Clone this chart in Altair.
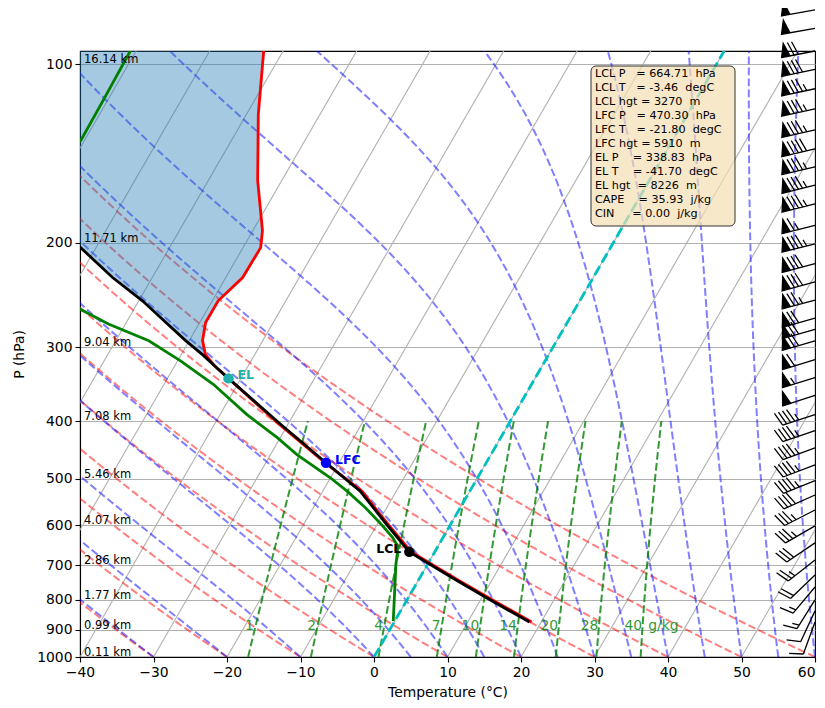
import numpy as np
import pandas as pd
import altair as alt

SKEW = 46.6            # x-shift (degC) per decade of pressure: 30 deg skew
P_TOP, P_BOT = 95.0, 1000.0
W, H = 735, 606
FONT = "DejaVu Sans"

# ---------------- sounding ----------------
prof_p = [873, 800, 740, 664.71, 600, 525, 470.3, 405, 338.83, 322.6, 309, 292.6,
          272.8, 250.7, 229, 203.9, 190.8, 157, 121.5, 94.7]
temp_c = [18.7, 11.5, 5.2, -3.2, -8.3, -14.7, -21.9, -31.2, -41.7, -44.6, -46.7, -48.2,
          -49.2, -49.2, -47.7, -47.6, -48.7, -53.3, -58.4, -62.7]
parcel_c = [18.4, 11.2, 4.95, -3.46, -8.5, -14.92, -21.8, -31.0, -41.7, -44.6, -47.1, -50.5,
            -54.6, -59.5, -65.4, -72.1, -75.8, -86.5, -99.7, -111.6]
dew_p = [870, 764.6, 698, 672, 650, 629.5, 600, 560, 525, 498, 455.5, 426.6, 389.6,
         346.7, 316.6, 292.7, 274.4, 259, 230, 200, 160, 134.6, 115, 94.8]
dew_c = [-0.2, -2.6, -4.3, -4.9, -5.5, -6.8, -9.2, -12.9, -16.7, -20.1, -26.4, -30.4, -36.4,
         -43.3, -49.6, -55.5, -62.3, -67.3, -76.0, -88.0, -86.0, -80.5, -80.6, -80.8]

# special levels
lvl_name = ["LCL", "LFC", "EL"]
lvl_p = [664.71, 470.30, 338.83]
lvl_t = [-3.46, -21.80, -41.70]
lvl_color = ["#000000", "#0000ff", "#20b2aa"]

# height labels on the left
km_p = [100, 200, 300, 400, 500, 600, 700, 800, 900, 1000]
km_text = ["16.14 km", "11.71 km", "9.04 km", "7.08 km", "5.46 km", "4.07 km",
           "2.86 km", "1.77 km", "0.99 km", "0.11 km"]

# mixing ratio lines (g/kg)
mix_w = [1, 2, 4, 7, 10, 14, 20, 28, 40]

# wind
wind_p = [81, 87, 95, 102, 110, 119, 129, 139, 149, 160, 172, 187, 201, 217, 233, 250,
          268, 280, 293, 315, 338, 362, 390, 415, 444, 474, 504, 533, 565, 601, 642,
          686, 727, 762, 801, 836, 873]
wind_kt = [50, 50, 70, 80, 85, 85, 85, 90, 85, 85, 85, 65, 85, 80, 80, 75,
           70, 70, 70, 60, 55, 50, 45, 45, 45, 45, 45, 40, 35, 35, 30,
           25, 20, 15, 15, 10, 10]
wind_dir = [260, 260, 259, 258, 258, 258, 257, 257, 257, 256, 256, 256, 256, 255, 255, 255,
            254, 254, 254, 253, 253, 252, 252, 251, 250, 249, 248, 246, 243, 240, 236,
            232, 226, 220, 212, 205, 200]

info_lines = ["LCL P   = 664.71  hPa", "LCL T   = -3.46  degC", "LCL hgt = 3270  m",
              "LFC P   = 470.30  hPa", "LFC T   = -21.80  degC", "LFC hgt = 5910  m",
              "EL P    = 338.83  hPa", "EL T    = -41.70  degC", "EL hgt  = 8226  m",
              "CAPE    = 35.93  j/kg", "CIN     = 0.00  j/kg"]

# ---------------- helpers ----------------
def skx(t, p):
    return np.asarray(t, float) + SKEW * np.log10(1000.0 / np.asarray(p, float))

def es_hpa(tc):
    return 6.112 * np.exp(17.67 * tc / (tc + 243.5))

def dew_from_e(e):
    v = np.log(e / 6.112)
    return 243.5 * v / (17.67 - v)

def moist_line(t0c, pgrid):
    Rd, Cp, Lv, eps = 287.04749, 1004.6662, 2.50084e6, 0.621957
    def f(p, t):
        e = es_hpa(t - 273.15)
        rs = eps * e / (p - e)
        return (Rd * t + Lv * rs) / (Cp + Lv * Lv * rs * eps / (Rd * t * t)) / p
    t = t0c + 273.15
    out = [t]
    for i in range(1, len(pgrid)):
        p0, h = pgrid[i - 1], pgrid[i] - pgrid[i - 1]
        k1 = f(p0, t); k2 = f(p0 + h / 2, t + h * k1 / 2)
        k3 = f(p0 + h / 2, t + h * k2 / 2); k4 = f(p0 + h, t + h * k3)
        t = t + h * (k1 + 2 * k2 + 2 * k3 + k4) / 6
        out.append(t)
    return np.array(out) - 273.15

def lines_df(curves):
    rows = []
    for cid, (ts, ps) in curves.items():
        xs = skx(ts, ps)
        for i, (x, p) in enumerate(zip(xs, ps)):
            rows.append({"id": str(cid), "i": i, "x": float(x), "p": float(p)})
    return pd.DataFrame(rows)

# ---------------- background lines ----------------
iso_df = lines_df({t0: ([t0, t0], [1000.0, 90.0]) for t0 in range(-110, 61, 10)})

pg = np.geomspace(1000.0, 90.0, 40)
dry_df = lines_df({t0: ((t0 + 273.15) * (pg / 1000.0) ** 0.2857 - 273.15, pg)
                   for t0 in range(-40, 61, 10)})

pfine = np.geomspace(1000.0, 90.0, 321)
moist_t0 = [-40, -30, -20, -10] + list(range(0, 61, 5))
moist_df = lines_df({t0: (moist_line(t0, pfine)[::8], pfine[::8]) for t0 in moist_t0})

pm = np.linspace(1000.0, 400.0, 13)
mix_df = lines_df({w: (dew_from_e(pm * (w / 1000.0) / (0.621957 + w / 1000.0)), pm) for w in mix_w})
P_LAB = 910.0
mix_lab = pd.DataFrame({
    "w": mix_w,
    "txt": [str(w) for w in mix_w],
    "x": skx(dew_from_e(P_LAB * (np.array(mix_w) / 1000.0) / (0.621957 + np.array(mix_w) / 1000.0)), P_LAB),
    "p": P_LAB,
})

zero_df = lines_df({0: ([0.0, 0.0], [1000.0, 90.0])})

# ---------------- profiles ----------------
temp_df = lines_df({"T": (temp_c, prof_p)})
parcel_df = lines_df({"P": (parcel_c, prof_p)})
dew_df = lines_df({"Td": (dew_c, dew_p)})

shade_idx = [i for i, p in enumerate(prof_p) if p <= 338.83]
shade_df = pd.DataFrame({
    "p": [prof_p[i] for i in shade_idx],
    "x": [float(skx(parcel_c[i], prof_p[i])) for i in shade_idx],
    "xt": [float(skx(temp_c[i], prof_p[i])) for i in shade_idx],
})

lvl_df = pd.DataFrame({"name": lvl_name, "p": lvl_p, "x": skx(lvl_t, lvl_p), "c": lvl_color})
km_df = pd.DataFrame({"p": km_p, "txt": km_text})

# ---------------- wind barbs (glyph paths built from speed / direction) ----------------
def barb_path(spd, d):
    L, sp, fh, fw = 34.0, 4.25, 13.6, 8.5
    rd = np.radians(d)
    s = (np.sin(rd), -np.cos(rd))
    b = (np.cos(rd), np.sin(rd))
    def P(a, h):
        return f"{a * s[0] + h * b[0]:.2f},{a * s[1] + h * b[1]:.2f}"
    spd5 = int(5 * round(spd / 5.0))
    nf, rem = divmod(spd5, 50)
    nb, rem = divmod(rem, 10)
    half = rem >= 5
    parts = [f"M0,0L{P(L, 0)}"]
    off = L
    for _ in range(nf):
        if off != L:
            off += sp / 2
        parts.append(f"M{P(off, 0)}L{P(off - fw / 2, fh)}L{P(off - fw, 0)}Z")
        off -= fw + sp
    for _ in range(nb):
        parts.append(f"M{P(off, 0)}L{P(off + fw / 2, fh)}")
        off -= sp
    if half:
        if off == L:
            off -= 1.5 * sp
        parts.append(f"M{P(off, 0)}L{P(off + fw / 4, fh / 2)}")
    return "".join(parts)

barb_df = pd.DataFrame({"p": wind_p, "path": [barb_path(s, d) for s, d in zip(wind_kt, wind_dir)]})

# ---------------- chart ----------------
XS = alt.Scale(domain=[-40, 60], nice=False, zero=False)
YS = alt.Scale(type="log", domain=[P_TOP, P_BOT], reverse=True, nice=False)

X_AXIS = alt.Axis(values=list(range(-40, 61, 10)), grid=False, title="Temperature (°C)",
                  tickSize=5, labelPadding=3, titlePadding=7, format="d",
                  labelFlush=False, labelOverlap=False,
                  labelAlign=alt.ExprRef(expr="datum.value >= 60 ? 'right' : 'center'"))
Y_AXIS = alt.Axis(values=km_p, format="d", grid=True, gridColor="#b0b0b0", gridWidth=1.1,
                  title="P (hPa)", tickSize=5, labelPadding=3, titlePadding=10,
                  labelFlush=False, labelOverlap=False)

def X(field="x"):
    return alt.X(f"{field}:Q", scale=XS, axis=X_AXIS, title="Temperature (°C)")

def Y():
    return alt.Y("p:Q", scale=YS, axis=Y_AXIS, title="P (hPa)")

def line_layer(df, color, width, dash=None, opacity=1.0):
    kw = dict(color=color, strokeWidth=width, opacity=opacity, clip=True)
    if dash:
        kw["strokeDash"] = dash
    return alt.Chart(df).mark_line(**kw).encode(x=X(), y=Y(), detail="id:N", order="i:Q")

dash15 = [7.7, 3.3]
layers = [
    line_layer(iso_df, "#b0b0b0", 1.1),
    line_layer(dry_df, "#ff0000", 2.0, dash15, 0.5),
    line_layer(moist_df, "#0000ff", 2.0, dash15, 0.5),
    line_layer(mix_df, "#008000", 2.0, dash15, 0.8),
    alt.Chart(mix_lab).mark_text(align="right", baseline="bottom", font=FONT, fontSize=13.9,
                                 color="#008000", opacity=0.8).encode(x=X(), y=Y(), text="txt:N"),
    alt.Chart(mix_lab[mix_lab.w == 40]).mark_text(align="left", baseline="bottom", font=FONT,
                                                  fontSize=13.9, color="#008000", opacity=0.8,
                                                  dx=6).encode(x=X(), y=Y(), text=alt.value("g/kg")),
    line_layer(zero_df, "#00bfbf", 2.8, [10.3, 4.4]),
    alt.Chart(shade_df).mark_area(orient="horizontal", color="#1f77b4", opacity=0.4, clip=True).encode(
        x=X(), x2="xt:Q", y=Y()),
    line_layer(temp_df, "#ff0000", 2.8),
    line_layer(dew_df, "#008000", 2.8),
    line_layer(parcel_df, "#000000", 2.8),
    alt.Chart(lvl_df).mark_point(filled=True, size=110, opacity=1).encode(
        x=X(), y=Y(), color=alt.Color("c:N", scale=None)),
    alt.Chart(lvl_df[lvl_df.name == "LCL"]).mark_text(align="right", baseline="middle", dx=-8, dy=-3,
                                                     font=FONT, fontSize=12.5, fontWeight="bold").encode(
        x=X(), y=Y(), text="name:N", color=alt.Color("c:N", scale=None)),
    alt.Chart(lvl_df[lvl_df.name != "LCL"]).mark_text(align="left", baseline="middle", dx=9, dy=-3,
                                                     font=FONT, fontSize=12.5, fontWeight="bold").encode(
        x=X(), y=Y(), text="name:N", color=alt.Color("c:N", scale=None)),
    alt.Chart(km_df).mark_text(align="left", baseline="middle", dy=-4, font=FONT, fontSize=11.5,
                               color="#000000").encode(x=alt.value(4), y=Y(), text="txt:N"),
    alt.Chart(barb_df).mark_point(filled=True, size=4, fill="black", stroke="black",
                                  strokeWidth=1.3, opacity=1).encode(
        x=alt.value(W), y=Y(), shape=alt.Shape("path:N", scale=None)),
]

box_df = pd.DataFrame({"txt": ["\n".join(s.replace(" ", "\u00a0") for s in info_lines)]})
layers += [
    alt.Chart(box_df).mark_rect(cornerRadius=5, fill="#f5deb3", fillOpacity=0.7, stroke="#333333",
                                strokeWidth=1).encode(
        x=alt.value(511), x2=alt.value(655), y=alt.value(15), y2=alt.value(175)),
    alt.Chart(box_df).mark_text(align="left", baseline="top", lineBreak="\n", lineHeight=14,
                                font=FONT, fontSize=11.2, color="black").encode(
        x=alt.value(515), y=alt.value(17), text="txt:N"),
]

chart = alt.layer(*layers).properties(
    width=W, height=H,
    padding={"left": 72, "top": 43, "right": 2, "bottom": 43},
    autosize=alt.AutoSizeParams(type="none"),
).configure_view(stroke="black", strokeWidth=1.1).configure_axis(
    labelFont=FONT, titleFont=FONT, labelFontSize=13.9, titleFontSize=13.9,
    labelColor="black", titleColor="black", tickColor="black", domainColor="black",
    titleFontWeight="normal", domainWidth=1.1, tickWidth=1.1)

chart.save("out.html", embed_options={"renderer": "svg", "actions": False})
